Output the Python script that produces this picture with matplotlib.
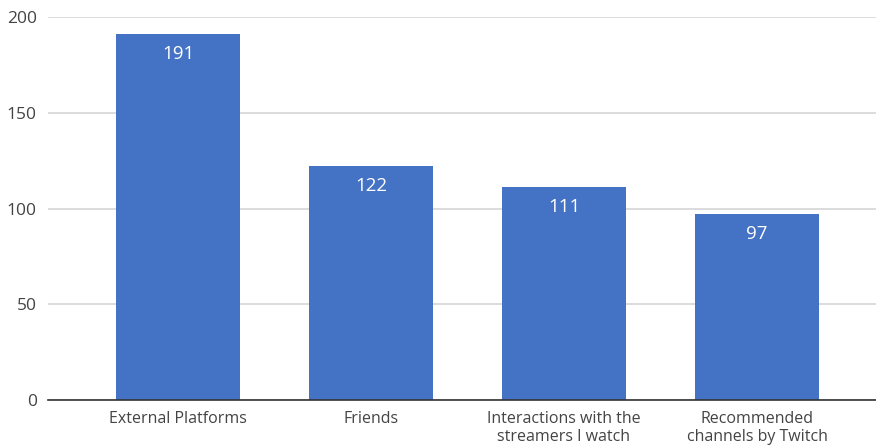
import matplotlib.pyplot as plt

# datos
categorias = ["External Platforms", "Friends",
              "Interactions with the\nstreamers I watch",
              "Recommended\nchannels by Twitch"]
valores = [191, 122, 111, 97]
yticks = [0, 50, 100, 150, 200]

plt.rcParams['font.family'] = ['Open Sans', 'DejaVu Sans']

fig = plt.figure(figsize=(8.76, 4.48), dpi=100)
ax = fig.add_axes([0.0548, 0.107, 0.9452, 0.855])

x = range(len(categorias))
bars = ax.bar(x, valores, width=0.642, color="#4472c4", zorder=3)

for b, v in zip(bars, valores):
    ax.annotate(str(v), (b.get_x() + b.get_width() / 2, v),
                xytext=(0, -14), textcoords="offset points",
                ha="center", va="center", color="white", fontsize=13.5,
                fontweight="medium", zorder=4)

ax.set_xlim(-0.674, 3.617)
ax.set_ylim(0, 200)
ax.set_yticks(yticks)
ax.set_xticks(list(x))
ax.set_xticklabels(categorias, fontsize=11.5, color="#444444", linespacing=1.15)
ax.tick_params(axis="y", labelsize=12.5, colors="#444444", length=0, pad=8)
ax.tick_params(axis="x", length=0, pad=8)

ax.grid(axis="y", color="#d6d6d6", linewidth=1.2, zorder=0)
for s in ["top", "right", "left"]:
    ax.spines[s].set_visible(False)
ax.spines["bottom"].set_color("#333333")
ax.spines["bottom"].set_linewidth(1.2)
ax.spines["bottom"].set_zorder(5)

fig.savefig("out.png", dpi=100)
